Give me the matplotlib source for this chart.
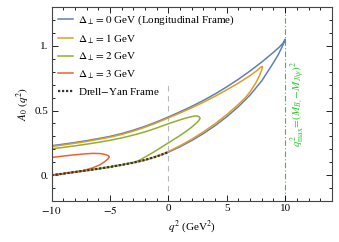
import matplotlib
matplotlib.use("Agg")
import matplotlib.pyplot as plt
from matplotlib.ticker import MultipleLocator

plt.rcParams['font.family'] = ['Liberation Serif', 'DejaVu Serif']
plt.rcParams['mathtext.fontset'] = 'stix'

# Drell-Yan frame curve
q_dy = [-10, -9, -8, -7, -6, -5, -4, -3, -2, -1, 0]
a_dy = [0.0, 0.012, 0.025, 0.037, 0.05, 0.064, 0.08, 0.097, 0.118, 0.145, 0.178]

# Delta = 0 GeV (longitudinal frame): upper and lower branches up to the tip
q_up0 = [-10, -9, -8, -7, -6, -5, -4, -3, -2, -1, 0, 1, 2, 3, 4, 5, 6, 7, 8, 9, 9.5, 9.85, 10.0]
a_up0 = [0.228, 0.240, 0.253, 0.267, 0.283, 0.300, 0.322, 0.348, 0.378, 0.412, 0.450, 0.490,
         0.532, 0.578, 0.628, 0.683, 0.742, 0.806, 0.875, 0.950, 0.990, 1.025, 1.05]
q_lo0 = [-10, -9, -8, -7, -6, -5, -4, -3, -2, -1, 0, 1, 2, 3, 4, 5, 6, 7, 8, 8.5, 9, 9.4, 9.7, 9.9, 10.0]
a_lo0 = [0.0, 0.012, 0.025, 0.037, 0.05, 0.064, 0.08, 0.097, 0.118, 0.145, 0.178, 0.220, 0.268,
         0.322, 0.383, 0.452, 0.530, 0.620, 0.730, 0.800, 0.870, 0.930, 0.985, 1.025, 1.05]

# Delta = 1 GeV
q_up1 = [-10, -9, -8, -7, -6, -5, -4, -3, -2, -1, 0, 1, 2, 3, 4, 5, 6, 7, 7.5, 7.8, 7.95, 8.05]
a_up1 = [0.222, 0.234, 0.247, 0.261, 0.277, 0.294, 0.315, 0.341, 0.371, 0.405, 0.443, 0.481,
         0.521, 0.564, 0.610, 0.660, 0.712, 0.770, 0.803, 0.826, 0.838, 0.84]
q_lo1 = [-10, -9, -8, -7, -6, -5, -4, -3, -2, -1, 0, 1, 2, 3, 4, 5, 6, 6.6, 7, 7.5, 7.8, 8.0, 8.05]
a_lo1 = [0.0, 0.012, 0.025, 0.037, 0.05, 0.064, 0.08, 0.097, 0.118, 0.146, 0.183, 0.228, 0.278,
         0.335, 0.398, 0.468, 0.548, 0.600, 0.645, 0.715, 0.770, 0.815, 0.84]

# Delta = 2 GeV
q_up2 = [-10, -9, -8, -7, -6, -5, -4, -3, -2, -1, 0, 1, 1.5, 2, 2.3, 2.5, 2.65, 2.72]
a_up2 = [0.205, 0.215, 0.227, 0.240, 0.254, 0.270, 0.288, 0.310, 0.335, 0.365, 0.398, 0.428,
         0.442, 0.453, 0.458, 0.457, 0.450, 0.44]
q_lo2 = [-10, -9, -8, -7, -6, -5, -4, -3, -2.5, -2, -1.5, -1, 0, 1, 1.5, 2, 2.4, 2.6, 2.72]
a_lo2 = [0.0, 0.012, 0.025, 0.037, 0.05, 0.064, 0.08, 0.098, 0.115, 0.140, 0.166, 0.193, 0.250,
         0.307, 0.338, 0.372, 0.403, 0.422, 0.44]

# Delta = 3 GeV
q_up3 = [-10, -9, -8, -7, -6.4, -5.8, -5.4, -5.15, -5.05]
a_up3 = [0.137, 0.148, 0.158, 0.166, 0.169, 0.167, 0.160, 0.152, 0.143]
q_lo3 = [-10, -9, -8, -7.3, -6.5, -5.87, -5.4, -5.15, -5.05]
a_lo3 = [0.0, 0.012, 0.025, 0.036, 0.056, 0.080, 0.108, 0.128, 0.143]

q2_max = 10.0

labels = [r'$\Delta_\perp = 0$ GeV (Longitudinal Frame)', r'$\Delta_\perp = 1$ GeV',
          r'$\Delta_\perp = 2$ GeV', r'$\Delta_\perp = 3$ GeV']
colors = ['#5E81B5', '#E19C24', '#8FB032', '#EB6235']

fig = plt.figure(figsize=(3.39, 2.42), dpi=100)
ax = fig.add_axes([0.152, 0.169, 0.827, 0.802])

curves = [(q_up0, a_up0, q_lo0, a_lo0), (q_up1, a_up1, q_lo1, a_lo1),
          (q_up2, a_up2, q_lo2, a_lo2), (q_up3, a_up3, q_lo3, a_lo3)]
for (qu, au, ql, al), c, lab in zip(curves, colors, labels):
    qs = list(qu) + list(ql[::-1])
    aa = list(au) + list(al[::-1])
    ax.plot(qs, aa, color=c, lw=1.1, label=lab, solid_joinstyle='round')
ax.plot(q_dy, a_dy, color='#333333', lw=1.6, ls=(0, (1, 0.8)), label='Drell$-$Yan Frame')

# dashed q^2 = 0 line stops under the legend
ax.axvline(0, ymax=0.6, color='#bbbbbb', lw=0.8, ls=(0, (5, 4)), zorder=0)
ax.axvline(q2_max, color='#33c633', lw=0.8, ls=(0, (5, 2, 1, 2)), zorder=0)
ax.text(11.15, 0.55, r'$q^2_{\rm max}\!=\!(M_{B_c}\!-\!M_{J/\psi})^2$', color='#33c633',
        rotation=90, ha='center', va='center', fontsize=8)

ax.set_xlim(-10, 14)
ax.set_ylim(-0.2, 1.3)
ax.set_xticks([-10, -5, 0, 5, 10])
ax.set_xticklabels(['$-10$', '$-5$', '0', '5', '10'])
ax.set_yticks([0, 0.5, 1.0])
ax.set_yticklabels(['0.', '0.5', '1.'])
ax.xaxis.set_minor_locator(MultipleLocator(1))
ax.yaxis.set_minor_locator(MultipleLocator(0.1))
ax.tick_params(which='both', direction='in', top=True, right=True, labelsize=8, width=0.6, pad=2)
ax.tick_params(which='major', length=4)
ax.tick_params(which='minor', length=2)
for s in ax.spines.values():
    s.set_linewidth(0.8)
    s.set_color('#444444')

ax.set_xlabel(r'$q^2$ (GeV$^2$)', fontsize=8, labelpad=2)
ax.set_ylabel(r'$A_0\ (q^2)$', fontsize=8, labelpad=2)

ax.legend(loc='upper left', fontsize=8, frameon=False,
          handlelength=1.3, handletextpad=0.5, labelspacing=0.45, borderpad=0.1,
          borderaxespad=0.5)

fig.savefig('out.png', dpi=100)
